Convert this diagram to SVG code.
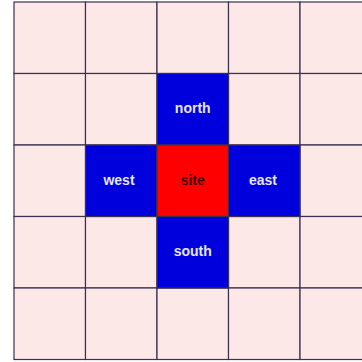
<svg xmlns="http://www.w3.org/2000/svg" width="362" height="362" viewBox="0 0 362 362">
<style>
.cell{fill:#fde8e8;stroke:#3a3050;stroke-width:1.2}
.dir{fill:#0000dd;stroke:#3a3050;stroke-width:1.2}
.site{fill:#ff0000;stroke:#3a3050;stroke-width:1.2}
.t{font-family:"Liberation Sans",Arial,sans-serif;font-size:14px;font-weight:bold;text-anchor:middle;dominant-baseline:central}
.tw{fill:#e6e6ff}
.tk{fill:#4a0000}
</style>
<rect width="362" height="362" fill="#ffffff"/>
<g id="grid">
<rect class="cell" x="14" y="2" width="71.5" height="71.5"/>
<rect class="cell" x="85.5" y="2" width="71.5" height="71.5"/>
<rect class="cell" x="157" y="2" width="71.5" height="71.5"/>
<rect class="cell" x="228.5" y="2" width="71.5" height="71.5"/>
<rect class="cell" x="300" y="2" width="71.5" height="71.5"/>
<rect class="cell" x="14" y="73.5" width="71.5" height="71.5"/>
<rect class="cell" x="85.5" y="73.5" width="71.5" height="71.5"/>
<rect class="cell" x="228.5" y="73.5" width="71.5" height="71.5"/>
<rect class="cell" x="300" y="73.5" width="71.5" height="71.5"/>
<rect class="cell" x="14" y="145" width="71.5" height="71.5"/>
<rect class="cell" x="300" y="145" width="71.5" height="71.5"/>
<rect class="cell" x="14" y="216.5" width="71.5" height="71.5"/>
<rect class="cell" x="85.5" y="216.5" width="71.5" height="71.5"/>
<rect class="cell" x="228.5" y="216.5" width="71.5" height="71.5"/>
<rect class="cell" x="300" y="216.5" width="71.5" height="71.5"/>
<rect class="cell" x="14" y="288" width="71.5" height="71.5"/>
<rect class="cell" x="85.5" y="288" width="71.5" height="71.5"/>
<rect class="cell" x="157" y="288" width="71.5" height="71.5"/>
<rect class="cell" x="228.5" y="288" width="71.5" height="71.5"/>
<rect class="cell" x="300" y="288" width="71.5" height="71.5"/>
</g>
<g id="north"><rect class="dir" x="157" y="73.5" width="71.5" height="71.5"/><text class="t tw" x="192.75" y="108">north</text></g>
<g id="west"><rect class="dir" x="85.5" y="145" width="71.5" height="71.5"/><text class="t tw" x="119" y="180">west</text></g>
<g id="site"><rect class="site" x="157" y="145" width="71.5" height="71.5"/><text class="t tk" x="192.75" y="180">site</text></g>
<g id="east"><rect class="dir" x="228.5" y="145" width="71.5" height="71.5"/><text class="t tw" x="263" y="180">east</text></g>
<g id="south"><rect class="dir" x="157" y="216.5" width="71.5" height="71.5"/><text class="t tw" x="192.75" y="251">south</text></g>
<g id="connectors"/>
</svg>
